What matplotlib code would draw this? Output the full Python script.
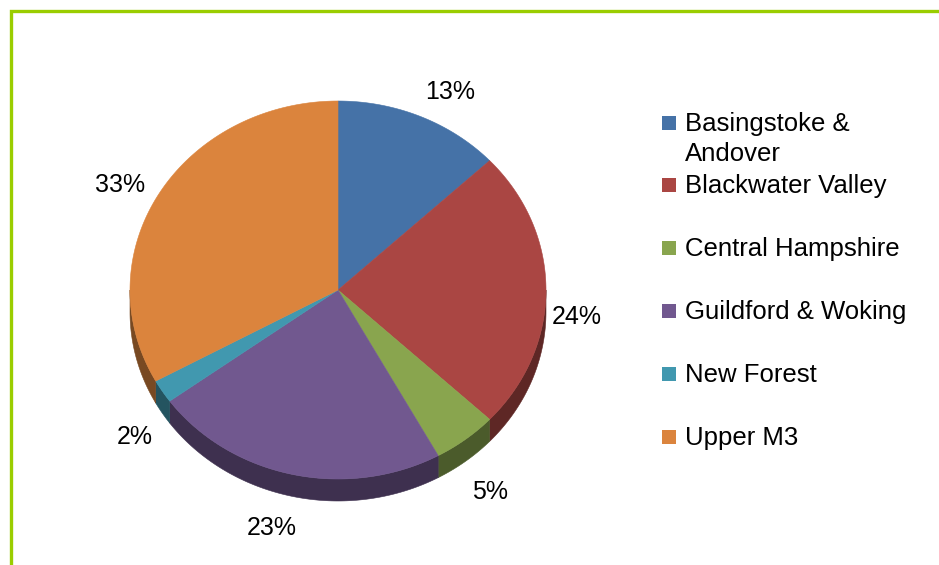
import numpy as np
import matplotlib
matplotlib.use("Agg")
import matplotlib.pyplot as plt
from matplotlib.patches import Polygon, Rectangle
from matplotlib.lines import Line2D

categories = ["Basingstoke &\nAndover", "Blackwater Valley", "Central Hampshire",
              "Guildford & Woking", "New Forest", "Upper M3"]
values = [13, 24, 5, 23, 2, 33]
labels = ["13%", "24%", "5%", "23%", "2%", "33%"]
colors = ["#4572A7", "#AA4643", "#89A54E", "#71588F", "#4198AF", "#DB843D"]

W, H = 939, 565
fig = plt.figure(figsize=(W / 100, H / 100), dpi=100)
ax = fig.add_axes([0, 0, 1, 1])
ax.set_xlim(0, W)
ax.set_ylim(H, 0)
ax.axis("off")

plt.rcParams['font.family'] = ['Liberation Sans', 'DejaVu Sans']

# border (left and top visible)
ax.add_line(Line2D([11, 11, W + 5], [H + 5, 11, 11], color="#9ACD00", lw=2.4,
                   solid_joinstyle="miter"))

cx, cy, rx, ry, depth = 338, 290, 208, 189, 22


def darker(c, f=0.55):
    r, g, b = matplotlib.colors.to_rgb(c)
    return (r * f, g * f, b * f)


def pt(theta_deg, dy=0.0, k=1.0):
    t = np.radians(theta_deg)
    return cx + k * rx * np.sin(t), cy - k * ry * np.cos(t) + dy


total = float(sum(values))
bounds = np.concatenate([[0], np.cumsum(values)]) / total * 360.0

# side walls (front half only)
for i, c in enumerate(colors):
    a, b = max(bounds[i], 90), min(bounds[i + 1], 270)
    if b <= a:
        continue
    th = np.linspace(a, b, 120)
    xs, ys = pt(th)
    poly = np.column_stack([np.concatenate([xs, xs[::-1]]),
                            np.concatenate([ys, ys[::-1] + depth])])
    ax.add_patch(Polygon(poly, closed=True, facecolor=darker(c), edgecolor=darker(c), lw=0.4))

# top faces
for i, c in enumerate(colors):
    th = np.linspace(bounds[i], bounds[i + 1], 200)
    xs, ys = pt(th)
    poly = np.column_stack([np.concatenate([[cx], xs]), np.concatenate([[cy], ys])])
    ax.add_patch(Polygon(poly, closed=True, facecolor=c, edgecolor=c, lw=0.4))

# data labels
kx = [1.356, 1.15, 1.19, 1.456, 1.16, 1.22]
ky = [1.141, 1.15, 1.169, 1.141, 1.18, 1.09]
for i, lab in enumerate(labels):
    mid = (bounds[i] + bounds[i + 1]) / 2
    t = np.radians(mid)
    x = cx + kx[i] * rx * np.sin(t)
    y = cy - ky[i] * ry * np.cos(t) + (depth * 1.25 if np.cos(t) < 0.2 else 0)
    ax.text(x, y, lab, fontsize=18, ha="center", va="center", color="black")

# legend
ly = [123, 185, 248, 311, 374, 437]
for i, (cat, c) in enumerate(zip(categories, colors)):
    ax.add_patch(Rectangle((662, ly[i] - 7), 14, 14, facecolor=c, edgecolor="none"))
    for j, line in enumerate(cat.split("\n")):
        ax.text(685, ly[i] + 1 + 30 * j, line, fontsize=18.5, ha="left", va="center",
                color="black")

fig.savefig("out.png", dpi=100)
